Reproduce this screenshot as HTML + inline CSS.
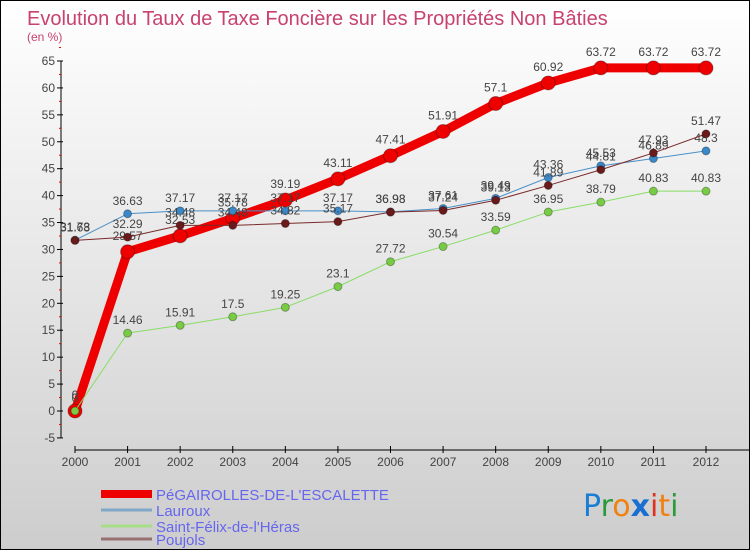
<!DOCTYPE html>
<html><head><meta charset="utf-8"><style>
html,body{margin:0;padding:0}
body{width:750px;height:550px;overflow:hidden;font-family:"Liberation Sans",sans-serif}
#wrap{position:relative;width:748px;height:548px;border:1px solid #000;background:linear-gradient(#ffffff,#cdcdcd)}
svg{position:absolute;left:0;top:0}
</style></head><body>
<div id="wrap">
<svg id="chart" width="748" height="548">
<text x="26" y="24" font-size="20" fill="#c8416f">Evolution du Taux de Taxe Foncière sur les Propriétés Non Bâties</text>
<text x="26" y="40" font-size="12" fill="#c8416f">(en %)</text>
<g id="axes"></g><g id="series"></g><g id="legend"></g>
<g font-size="30" font-family="DejaVu Sans, sans-serif">
<text x="582" y="515"><tspan fill="#1a7fd4">P</tspan><tspan fill="#2a9a3a">r</tspan><tspan fill="#f08010">o</tspan><tspan fill="#1a6fd0" font-weight="bold">x</tspan><tspan fill="#e03020">i</tspan><tspan fill="#f08010">t</tspan><tspan fill="#2a9a3a">i</tspan></text>
</g>
</svg>
</div>
<script>
const years=[2000,2001,2002,2003,2004,2005,2006,2007,2008,2009,2010,2011,2012];
const pegairolles=[0,29.57,32.53,35.78,39.19,43.11,47.41,51.91,57.1,60.92,63.72,63.72,63.72];
const lauroux=[31.73,36.63,37.17,37.17,37.17,37.17,36.98,37.61,39.49,43.36,45.53,46.89,48.3];
const saintFelix=[0,14.46,15.91,17.5,19.25,23.1,27.72,30.54,33.59,36.95,38.79,40.83,40.83];
const poujols=[31.68,32.29,34.48,34.48,34.82,35.17,36.93,37.24,39.13,41.89,44.81,47.93,51.47];
const yTicks=[-5,0,5,10,15,20,25,30,35,40,45,50,55,60,65];
const NS='http://www.w3.org/2000/svg';
const x=i=>74+i*(705-74)/12;
const y=v=>410-v*(350/65);
function mk(tag,attrs,parent){const e=document.createElementNS(NS,tag);for(const k in attrs)e.setAttribute(k,attrs[k]);parent.appendChild(e);return e;}
const axes=document.getElementById('axes');
let ya=mk('line',{x1:60,y1:y(65),x2:60,y2:y(-5),stroke:'#000'},axes);


yTicks.forEach(v=>{
  mk('line',{x1:56,y1:y(v),x2:62,y2:y(v),stroke:'#000'},axes);
  mk('line',{x1:58,y1:y(v+2.5),x2:60,y2:y(v+2.5),stroke:'#e00'},axes);
  const t=mk('text',{x:54,y:y(v)+4,'font-size':12,fill:'#444','text-anchor':'end'},axes);
  t.textContent=v;
  
  
});
let xa=mk('line',{x1:x(0),y1:449,x2:748,y2:449,stroke:'#000'},axes);


years.forEach((yr,i)=>{
  mk('line',{x1:x(i),y1:445,x2:x(i),y2:452,stroke:'#000'},axes);
  const t=mk('text',{x:x(i),y:465,'font-size':12,fill:'#444','text-anchor':'middle'},axes);
  t.textContent=yr;
  
  
});
const series=[
 {name:'pegairolles',data:pegairolles,color:'#ee0000',w:9,r:7,fill:'#ee0000'},
 {name:'lauroux',data:lauroux,color:'#4a90c8',w:1,r:4,fill:'#3a88c8'},
 {name:'saint-felix',data:saintFelix,color:'#88dd66',w:1,r:4,fill:'#77cc44'},
 {name:'poujols',data:poujols,color:'#7a2a2a',w:1,r:4,fill:'#6a1a1a'}
];
const sg=document.getElementById('series');
series.forEach(s=>{
  const g=mk('g',{},sg);
  
  
  const p=mk('polyline',{points:s.data.map((v,i)=>x(i)+','+y(v)).join(' '),fill:'none',stroke:s.color,'stroke-width':s.w,'stroke-linejoin':'round'},g);
  
  
  s.data.forEach((v,i)=>{
    const c=mk('circle',{cx:x(i),cy:y(v),r:s.r,fill:s.fill,stroke:'rgba(0,0,0,0.3)','stroke-width':1},g);
    
    
    const t=mk('text',{x:x(i),y:y(v)-(s.r+5),'font-size':12,fill:'#444','text-anchor':'middle'},g);
    t.textContent=v;
    
    
  });
});
const lg=document.getElementById('legend');
const legendItems=[['PéGAIROLLES-DE-L\'ESCALETTE','#ee0000',8],['Lauroux','#80a8c8',3],['Saint-Félix-de-l\'Héras','#a8dd88',3],['Poujols','#987070',3]];
const ly=[493,509,525,538];
legendItems.forEach((it,k)=>{
  const g=mk('g',{},lg);
  
  
  mk('line',{x1:100,y1:ly[k],x2:151,y2:ly[k],stroke:it[1],'stroke-width':it[2]},g);
  const t=mk('text',{x:155,y:ly[k]+6,'font-size':15,fill:'#6666ee'},g);
  t.textContent=it[0];
});
</script>
</body></html>
